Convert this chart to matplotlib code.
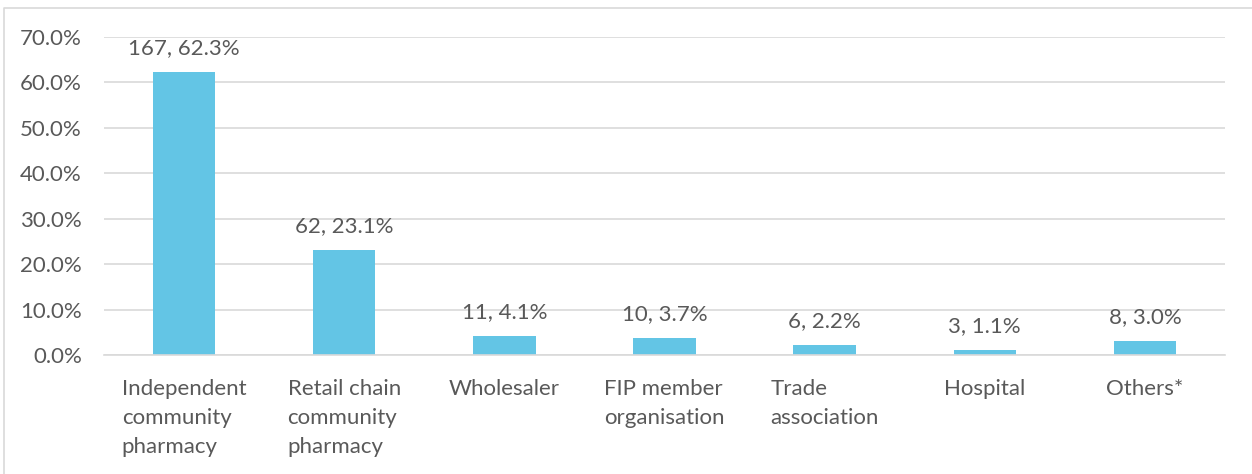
import matplotlib.pyplot as plt
import numpy as np
from matplotlib.lines import Line2D

categories = [
    "Independent\ncommunity\npharmacy",
    "Retail chain\ncommunity\npharmacy",
    "Wholesaler",
    "FIP member\norganisation",
    "Trade\nassociation",
    "Hospital",
    "Others*",
]
counts = [167, 62, 11, 10, 6, 3, 8]
shares = [62.3, 23.1, 4.1, 3.7, 2.2, 1.1, 3.0]
yticks = [0, 10, 20, 30, 40, 50, 60, 70]

plt.rcParams["font.family"] = ["Lato", "DejaVu Sans"]
text_col = "#595959"
bar_col = "#63C5E5"
grid_col = "#D9D9D9"

fig = plt.figure(figsize=(12.52, 4.74), dpi=100)
ax = fig.add_axes([104 / 1252, 1 - 355 / 474, (1225 - 104) / 1252, (355 - 37) / 474])

# chart frame: only top and left edges fall inside the image
W, H = 1252, 474
fig.lines.append(Line2D([4 / W, 4 / W, 1], [0, 1 - 8 / H, 1 - 8 / H],
                        transform=fig.transFigure, color=grid_col, linewidth=1.2))

x = np.arange(len(categories))
ax.bar(x, shares, width=0.39, color=bar_col, zorder=3)

for xi, c, s in zip(x, counts, shares):
    ax.annotate(f"{c}, {s:.1f}%", (xi, s), xytext=(0, 10), textcoords="offset points",
                ha="center", va="bottom", fontsize=16, color=text_col)

ax.set_xlim(-0.5, len(categories) - 0.5)
ax.set_ylim(0, 70)
ax.set_yticks(yticks)
ax.set_yticklabels([f"{t:.1f}%" for t in yticks])
ax.set_xticks(x)
ax.set_xticklabels(categories, ma="left", va="top", linespacing=1.58)

ax.grid(axis="y", color=grid_col, linewidth=1.2, zorder=0)
for side in ["top", "right", "left"]:
    ax.spines[side].set_visible(False)
ax.spines["bottom"].set_color(grid_col)
ax.spines["bottom"].set_linewidth(1.2)
ax.spines["bottom"].set_zorder(4)
ax.tick_params(axis="both", length=0, labelsize=16, colors=text_col)
ax.tick_params(axis="x", pad=17)
ax.tick_params(axis="y", pad=16)

fig.savefig("out.png", dpi=100)
